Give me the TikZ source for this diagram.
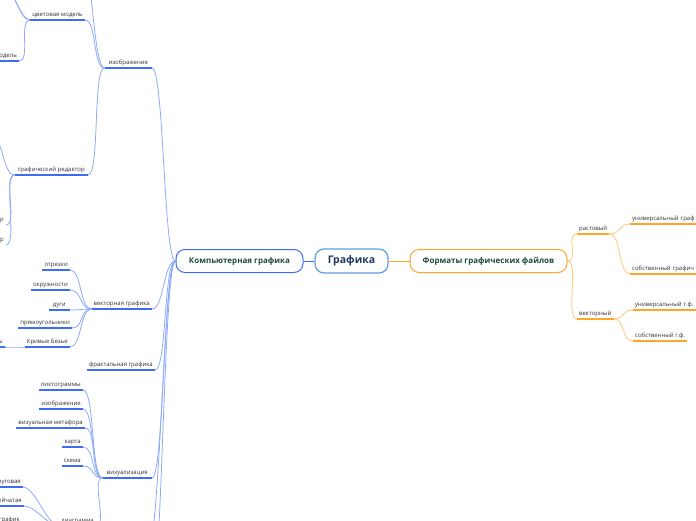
\documentclass[tikz,border=0pt]{standalone}
\usepackage{fontspec}
\setmainfont{Open Sans}
\usepackage{xcolor}
\usepackage{tikz}
\usetikzlibrary{backgrounds}

\definecolor{rootline}{HTML}{5B9FE0}
\definecolor{roottext}{HTML}{1F3864}
\definecolor{titletext}{HTML}{1E4A3C}
\definecolor{lbltext}{HTML}{333333}
\definecolor{blueline}{HTML}{3D6DF2}
\definecolor{bluecurve}{HTML}{8EAAFB}
\definecolor{orangeline}{HTML}{FFA52A}
\definecolor{orangecurve}{HTML}{FFCB85}

\begin{document}
\begin{tikzpicture}[x=1pt, y=-1pt,
  rootbox/.style={draw=rootline, line width=1.2pt, rounded corners=9pt, fill=white,
                  minimum width=73pt, minimum height=24pt,
                  font=\fontsize{10.5}{12}\selectfont\bfseries, text=roottext},
  mainbox/.style={draw=#1, line width=1pt, rounded corners=9pt, fill=white,
                  minimum height=23pt, font=\fontsize{8}{10}\selectfont\bfseries, text=titletext},
  topic/.style={inner xsep=2pt, inner ysep=2.5pt, text height=4.5pt, text depth=1.2pt,
                font=\fontsize{6}{7}\selectfont, text=lbltext},
  bul/.style={draw=blueline, line width=1.8pt},
  oul/.style={draw=orangeline, line width=1.8pt},
  bcon/.style={draw=bluecurve, line width=0.8pt,
               to path={.. controls +(12,0) and +(-12,0) .. (\tikztotarget)}},
  ocon/.style={draw=orangecurve, line width=0.9pt,
               to path={.. controls +(12,0) and +(-12,0) .. (\tikztotarget)}}
]
  \useasboundingbox (0,0) rectangle (696,520);
  % Central topics
  \node[rootbox] (graf) at (351.5,261) {Графика};
  \node[mainbox=blueline, minimum width=127pt] (comp) at (239.5,261) {Компьютерная графика};
  \node[mainbox=orangeline, minimum width=157pt] (fmt) at (488.5,261) {Форматы графических файлов};
  % Компьютерная графика: first level
  \node[topic, anchor=south east, minimum width=47pt] (izo)   at (152,68)  {изображение};
  \node[topic, anchor=south east, minimum width=57pt] (vect)  at (152,309) {векторная графика};
  \node[topic, anchor=south east, minimum width=67pt] (fract) at (155,370) {фрактальная графика};
  \node[topic, anchor=south east, minimum width=49pt] (vis)   at (152,478) {визуализация};
  \coordinate (compd1) at (148,548);
  \coordinate (compd2) at (150,610);
  % изображение
  \node[topic, anchor=south east, minimum width=53pt] (color)  at (85,20)  {цветовая модель};
  \node[topic, anchor=south east, minimum width=73pt] (editor) at (88,175) {графический редактор};
  \coordinate (izou) at (80,-50);
  \node[topic, anchor=south east] (model) at (19,61) {модель};
  \coordinate (coloru1) at (4,-12);
  \coordinate (coloru2) at (-6,-32);
  \coordinate (editoru) at (-8,138);
  \node[topic, anchor=south east] (edr1) at (6,225) {р};
  \node[topic, anchor=south east] (edr2) at (6,245) {р};
  % векторная графика
  \node[topic, anchor=south east] (seg)  at (70,270) {отрезки};
  \node[topic, anchor=south east] (circ) at (70,290) {окружности};
  \node[topic, anchor=south east, minimum width=21pt] (arc) at (70,310) {дуги};
  \node[topic, anchor=south east] (rect) at (72,328) {прямоугольники};
  \node[topic, anchor=south east] (bez)  at (70,347) {Кривые Безье};
  \node[topic, anchor=south east] (bezl) at (5,347)  {ы};
  % визуализация
  \node[topic, anchor=south east] (picto)  at (83,390) {пиктограммы};
  \node[topic, anchor=south east] (image)  at (83,409) {изображение};
  \node[topic, anchor=south east] (metaph) at (85,428) {визуальная метафора};
  \node[topic, anchor=south east] (map)    at (83,447) {карта};
  \node[topic, anchor=south east] (scheme) at (83,466) {схема};
  \node[topic, anchor=south east] (diagr)  at (96,526) {диаграмма};
  \node[topic, anchor=south east] (pie)    at (23,487) {руговая};
  \node[topic, anchor=south east] (grid)   at (24,506) {ейчатая};
  \node[topic, anchor=south east] (chart)  at (22,525) {график};
  % Форматы графических файлов
  \node[topic, anchor=south west] (raster) at (577,234) {растовый};
  \node[topic, anchor=south west] (vector) at (577,319) {векторный};
  \node[topic, anchor=south west, text width=76pt, align=left] (univa) at (630,224) {универсальный граф};
  \node[topic, anchor=south west, text width=76pt, align=left] (owna)  at (630,274) {собственный графич};
  \node[topic, anchor=south west, text width=66pt, align=left] (univb) at (633,310) {универсальный г.ф.};
  \node[topic, anchor=south west] (ownb) at (633,341) {собственный г.ф.};
  % Underlines
  \foreach \n in {izo,vect,fract,vis,color,editor,model,seg,circ,arc,rect,bez,bezl,
                  picto,image,metaph,map,scheme,diagr,pie,grid,chart}
    \draw[bul] (\n.south west) -- (\n.south east);
  \foreach \n in {raster,vector,univa,owna,univb,ownb}
    \draw[oul] (\n.south west) -- (\n.south east);
  % Connections
  \begin{scope}[on background layer]
    \draw[blueline, line width=1pt] (graf) -- (comp);
    \draw[orangeline, line width=1pt] (graf) -- (fmt);
    \foreach \n in {izo,vect,fract,vis,compd1,compd2}
      \draw[bcon] (\n.south east) to (comp.west);
    \foreach \n in {color,editor,izou}
      \draw[bcon] (\n.south east) to (izo.south west);
    \foreach \n in {model,coloru1,coloru2}
      \draw[bcon] (\n.south east) to (color.south west);
    \foreach \n in {editoru,edr1,edr2}
      \draw[bcon] (\n.south east) to (editor.south west);
    \foreach \n in {seg,circ,arc,rect,bez}
      \draw[bcon] (\n.south east) to (vect.south west);
    \draw[bcon] (bezl.south east) to (bez.south west);
    \foreach \n in {picto,image,metaph,map,scheme,diagr}
      \draw[bcon] (\n.south east) to (vis.south west);
    \foreach \n in {pie,grid,chart}
      \draw[bcon] (\n.south east) to (diagr.south west);
    \draw[ocon] (fmt.east) to (raster.south west);
    \draw[ocon] (fmt.east) to (vector.south west);
    \draw[ocon] (raster.south east) to (univa.south west);
    \draw[ocon] (raster.south east) to (owna.south west);
    \draw[ocon] (vector.south east) to (univb.south west);
    \draw[ocon] (vector.south east) to (ownb.south west);
  \end{scope}
\end{tikzpicture}
\end{document}
